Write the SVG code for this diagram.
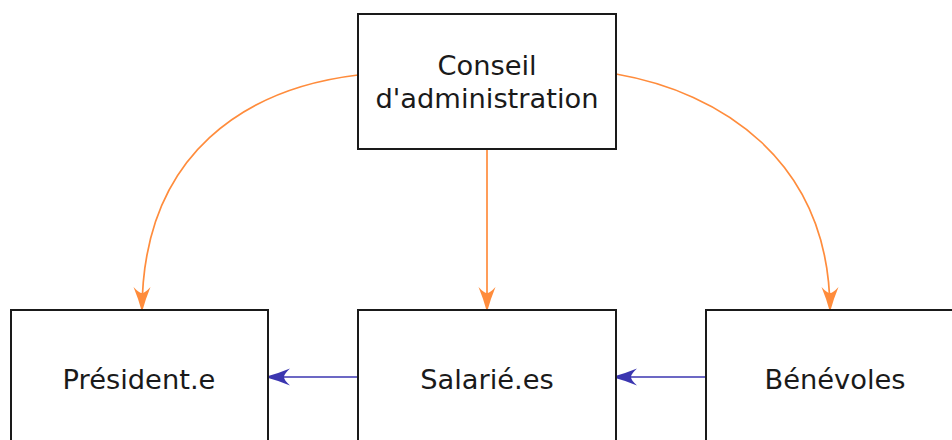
<svg xmlns="http://www.w3.org/2000/svg" width="952" height="440" viewBox="0 0 952 440">
  <style>
    .box { fill: #ffffff; stroke: #1a1a1a; stroke-width: 2; }
    .label { font-family: "DejaVu Sans", "Liberation Sans", sans-serif; font-size: 27.3px; fill: #1a1a1a; text-anchor: middle; }
    .orange { fill: none; stroke: #ff8c3c; stroke-width: 1.7; }
    .blue { fill: none; stroke: #3b36b0; stroke-width: 1.7; }
  </style>
  <defs>
    <marker id="head-orange" viewBox="-28 -11 30 22" refX="0" refY="0" markerWidth="30" markerHeight="22" markerUnits="userSpaceOnUse" orient="auto">
      <path d="M0,0 Q-13,-3.5 -25,-8.5 Q-19,-3 -19,0 Q-19,3 -25,8.5 Q-13,3.5 0,0 Z" fill="#ff8c3c"/>
    </marker>
    <marker id="head-blue" viewBox="-28 -11 30 22" refX="0" refY="0" markerWidth="30" markerHeight="22" markerUnits="userSpaceOnUse" orient="auto">
      <path d="M0,0 Q-13,-3.5 -25,-8.5 Q-19,-3 -19,0 Q-19,3 -25,8.5 Q-13,3.5 0,0 Z" fill="#3b36b0"/>
    </marker>
  </defs>

  <g id="connectors">
    <path class="orange" d="M358,75 C250,88 142,150 142,312" marker-end="url(#head-orange)"/>
    <path class="orange" d="M487,149 L487,312" marker-end="url(#head-orange)"/>
    <path class="orange" d="M616,74 C720,92 830,160 830,312" marker-end="url(#head-orange)"/>
    <path class="blue" d="M358,377 L265,377" marker-end="url(#head-blue)"/>
    <path class="blue" d="M706,377 L612,377" marker-end="url(#head-blue)"/>
  </g>

  <g id="conseil">
    <rect class="box" x="358" y="14" width="258" height="135"/>
    <text class="label" x="487" y="75">Conseil</text>
    <text class="label" x="487" y="108">d'administration</text>
  </g>

  <g id="president">
    <rect class="box" x="11" y="310" width="257" height="140"/>
    <text class="label" x="139" y="389">Président.e</text>
  </g>

  <g id="salaries">
    <rect class="box" x="358" y="310" width="258" height="140"/>
    <text class="label" x="487" y="389">Salarié.es</text>
  </g>

  <g id="benevoles">
    <rect class="box" x="706" y="310" width="258" height="140"/>
    <text class="label" x="835" y="389">Bénévoles</text>
  </g>
</svg>
